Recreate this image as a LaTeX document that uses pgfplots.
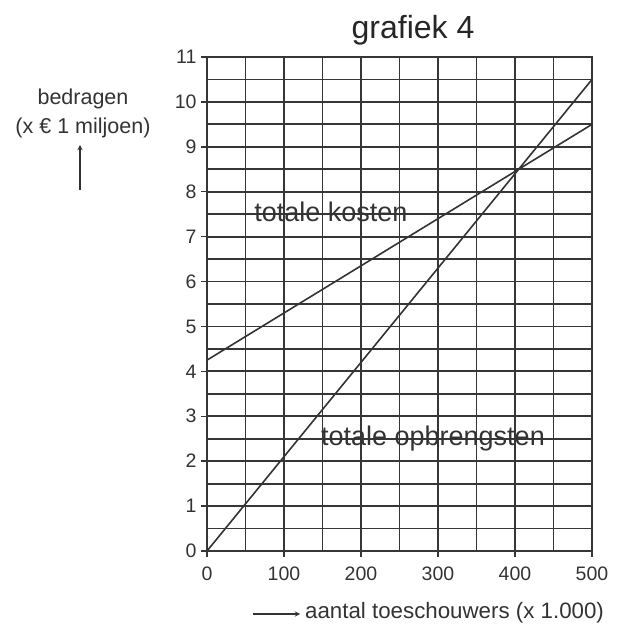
\documentclass[border=0pt]{standalone}
\usepackage{fontspec}
\setmainfont{Liberation Sans}
\usepackage{pgfplots}
\pgfplotsset{compat=1.18}
\definecolor{gridc}{HTML}{363636}
\definecolor{linec}{HTML}{333333}
\begin{document}
\begin{tikzpicture}
\begin{axis}[
  at={(0pt,0pt)}, anchor=south west,
  scale only axis, width=385pt, height=494pt,
  xmin=0, xmax=500, ymin=0, ymax=11,
  xtick={0,50,...,500},
  xticklabels={0,,100,,200,,300,,400,,500},
  ytick={0,0.5,...,11},
  yticklabels={0,,1,,2,,3,,4,,5,,6,,7,,8,,9,,10,,11},
  grid=major,
  major grid style={line width=1.8pt, draw=gridc},
  axis line style={line width=1.8pt, draw=gridc},
  tick pos=left,
  major tick length=0pt,
  extra x ticks={0,100,...,500},
  extra x tick labels={},
  extra y ticks={0,1,...,11},
  extra y tick labels={},
  extra tick style={grid=none, tick align=outside, major tick length=6pt, major tick style={line width=1.5pt, draw=gridc}},
  tick label style={font=\fontsize{19.5}{22}\selectfont, text=black!80},
  /pgf/number format/assume math mode=true,
  /pgf/number format/1000 sep={},
  xticklabel style={yshift=-12pt},
  yticklabel style={xshift=-7pt},
  clip=false,
]
\addplot[line width=1.6pt, draw=linec] coordinates {(0,4.25) (500,9.5)};
\addplot[line width=1.6pt, draw=linec] coordinates {(0,0) (500,10.5)};
\node[anchor=base, font=\fontsize{27}{30}\selectfont, text=black!80, inner sep=0pt] at (axis cs:161,7.34) {totale kosten};
\node[anchor=base, font=\fontsize{27}{30}\selectfont, text=black!80, inner sep=0pt] at (axis cs:293.5,2.34) {totale opbrengsten};
\end{axis}
\node[font=\fontsize{32}{36}\selectfont, text=black!85, inner sep=0pt] at (206pt,521pt) {grafiek 4};
\node[font=\fontsize{21.5}{24}\selectfont, text=black!80, inner sep=0pt] at (-124pt,452pt) {bedragen};
\node[font=\fontsize{21.5}{24}\selectfont, text=black!80, inner sep=0pt] at (-124pt,423pt) {(x € 1 miljoen)};
\draw[-stealth, line width=1.3pt, draw=linec] (-127pt,361pt) -- (-127pt,406pt);
\draw[-stealth, line width=1.3pt, draw=linec] (46pt,-63pt) -- (93pt,-63pt);
\node[anchor=west, font=\fontsize{22.3}{25}\selectfont, text=black!80, inner sep=0pt] at (98pt,-62pt) {aantal toeschouwers (x 1.000)};
\path[use as bounding box] (-207pt,-75pt) rectangle (411pt,551pt);
\end{tikzpicture}
\end{document}
